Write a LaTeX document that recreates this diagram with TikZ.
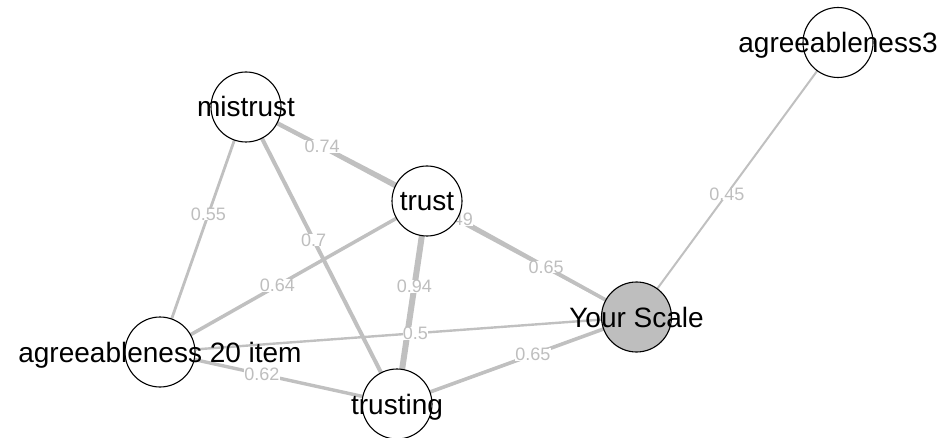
\documentclass[tikz,border=0pt]{standalone}
\usepackage{fontspec}
\setmainfont{Liberation Sans}
\definecolor{edgegray}{RGB}{192,192,192}
\definecolor{labgray}{RGB}{190,190,190}
\definecolor{nodegray}{RGB}{190,190,190}
\pgfdeclarelayer{background}
\pgfsetlayers{background,main}
\begin{document}
\begin{tikzpicture}[x=1pt,y=-1pt,
  vert/.style={circle,draw=black,line width=1.1pt,fill=white,minimum size=70pt,inner sep=0pt},
  vlab/.style={font=\fontsize{28}{30}\selectfont,text=black,text height=20pt,text depth=0pt,inner sep=0pt},
  edge/.style={draw=edgegray,line cap=butt},
  elab/.style={font=\fontsize{18}{20}\selectfont,text=labgray,fill=white,inner sep=0.3pt,text height=12pt,text depth=0pt}]
\useasboundingbox (0,0) rectangle (944,438);
\node[vert,label={[vlab]center:mistrust}] (m) at (246,107) {};
\node[vert,label={[vlab]center:trust}] (t) at (427,201) {};
\node[vert,label={[vlab]center:agreeableness 20 item}] (a20) at (160,352) {};
\node[vert,label={[vlab]center:trusting}] (tg) at (397,404) {};
\node[vert,fill=nodegray,label={[vlab]center:Your Scale}] (ys) at (636.5,317) {};
\node[vert,label={[vlab]center:agreeableness3}] (a3) at (838,42.5) {};
\begin{pgfonlayer}{background}
\foreach \u/\v/\w in {m/t/4.4, m/a20/2.8, m/tg/4.0, m/ys/2.3, t/a20/3.5, t/tg/6.0, a20/ys/2.4, a20/tg/3.4, t/ys/3.6, tg/ys/3.6, ys/a3/2.0}
  \draw[edge,line width=\w pt] (\u.center) -- (\v.center);
\foreach \u/\v/\p/\l in {m/t/0.42/0.74, m/a20/0.437/0.55, m/tg/0.448/0.7, m/ys/0.536/0.49, t/a20/0.56/0.64, t/tg/0.42/0.94, a20/ys/0.536/0.5, a20/tg/0.43/0.62, t/ys/0.569/0.65, tg/ys/0.567/0.65, ys/a3/0.448/0.45}
  \path (\u.center) -- node[elab,pos=\p] {\l} (\v.center);
\end{pgfonlayer}
\end{tikzpicture}
\end{document}
